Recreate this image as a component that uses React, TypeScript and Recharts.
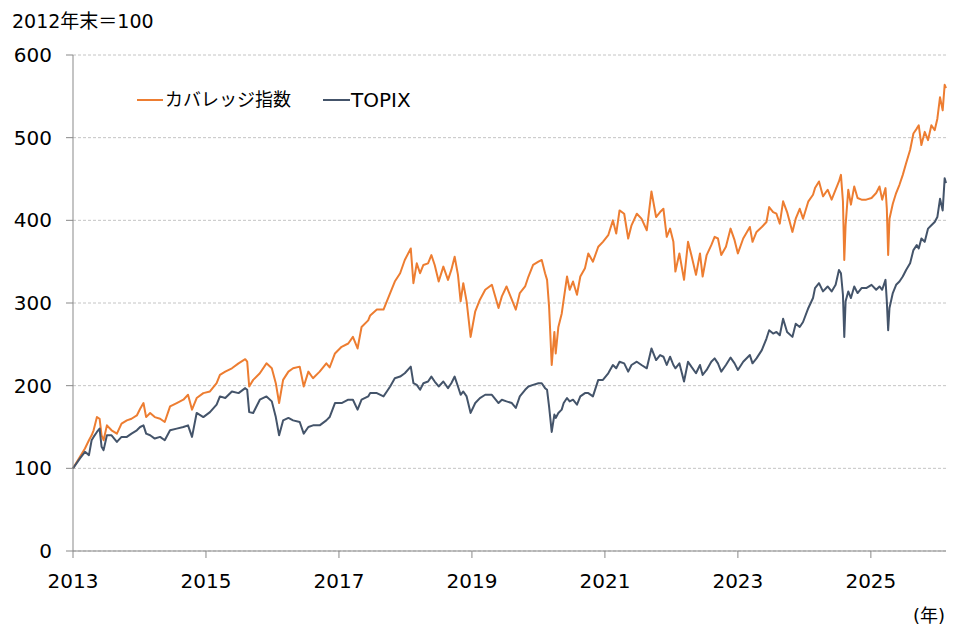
import React from 'react';
import { CartesianGrid, Line, LineChart, XAxis, YAxis } from 'recharts';

// time axis in decimal years
const years = [
  2013.0, 2013.105, 2013.18, 2013.24, 2013.28, 2013.31, 2013.36, 2013.4, 2013.43, 2013.46,
  2013.51, 2013.58, 2013.66, 2013.73, 2013.81, 2013.88, 2013.96, 2014.01, 2014.06, 2014.1,
  2014.16, 2014.23, 2014.31, 2014.38, 2014.46, 2014.56, 2014.66, 2014.73, 2014.79, 2014.86,
  2014.96, 2015.06, 2015.16, 2015.21, 2015.29, 2015.39, 2015.49, 2015.59, 2015.62, 2015.65,
  2015.71, 2015.81, 2015.91, 2015.99, 2016.05, 2016.1, 2016.16, 2016.24, 2016.31, 2016.41,
  2016.47, 2016.54, 2016.61, 2016.71, 2016.81, 2016.86, 2016.94, 2017.04, 2017.14, 2017.21,
  2017.28, 2017.34, 2017.44, 2017.47, 2017.57, 2017.67, 2017.72, 2017.77, 2017.84, 2017.92,
  2017.99, 2018.08, 2018.12, 2018.17, 2018.22, 2018.27, 2018.34, 2018.39, 2018.44, 2018.5,
  2018.57, 2018.64, 2018.69, 2018.74, 2018.79, 2018.83, 2018.87, 2018.92, 2018.98, 2019.05,
  2019.12, 2019.2, 2019.3, 2019.4, 2019.45, 2019.52, 2019.6, 2019.66, 2019.72, 2019.8,
  2019.85, 2019.92, 2020.0, 2020.05, 2020.1, 2020.13, 2020.16, 2020.2, 2020.24, 2020.26,
  2020.3, 2020.35, 2020.38, 2020.43, 2020.47, 2020.52, 2020.58, 2020.63, 2020.7, 2020.75,
  2020.82, 2020.9, 2020.97, 2021.05, 2021.12, 2021.17, 2021.22, 2021.29, 2021.35, 2021.4,
  2021.48, 2021.55, 2021.63, 2021.7, 2021.77, 2021.83, 2021.88, 2021.93, 2021.98, 2022.03,
  2022.06, 2022.12, 2022.19, 2022.25, 2022.3, 2022.37, 2022.43, 2022.47, 2022.53, 2022.6,
  2022.65, 2022.7, 2022.75, 2022.82, 2022.89, 2022.95, 2023.0, 2023.08, 2023.18, 2023.22,
  2023.28, 2023.36, 2023.43, 2023.47, 2023.53, 2023.58, 2023.63, 2023.68, 2023.74, 2023.82,
  2023.87, 2023.93, 2023.98, 2024.06, 2024.13, 2024.16, 2024.22, 2024.28, 2024.35, 2024.41,
  2024.47, 2024.52, 2024.55, 2024.58, 2024.6, 2024.62, 2024.66, 2024.7, 2024.75, 2024.8,
  2024.86, 2024.93, 2025.01, 2025.08, 2025.13, 2025.17, 2025.22, 2025.24, 2025.26, 2025.28,
  2025.33, 2025.38, 2025.43, 2025.48, 2025.53, 2025.59, 2025.64, 2025.69, 2025.72, 2025.76,
  2025.81, 2025.86, 2025.91, 2025.96, 2026.0, 2026.04, 2026.08, 2026.11, 2026.13,
];

// カバレッジ指数 (2012年末=100)
const coverage = [
  100, 114, 124, 134, 140, 146, 162, 160, 140, 134,
  152, 146, 142, 154, 158, 160, 164, 172, 179, 162,
  167, 162, 160, 156, 175, 179, 183, 189, 171, 185,
  191, 193, 203, 213, 217, 221, 227, 232, 229, 199,
  207, 215, 227, 221, 203, 179, 207, 217, 221, 223,
  199, 217, 209, 217, 227, 222, 239, 247, 251, 259,
  245, 271, 279, 285, 292, 292, 302, 312, 326, 336,
  352, 366, 324, 348, 336, 346, 348, 358, 346, 326,
  344, 328, 340, 356, 334, 302, 324, 302, 259, 290,
  304, 316, 322, 294, 308, 320, 304, 292, 312, 320,
  332, 346, 350, 352, 336, 328, 296, 225, 265, 239,
  271, 287, 304, 332, 316, 326, 310, 332, 342, 360,
  350, 368, 374, 382, 400, 384, 412, 408, 378, 394,
  408, 402, 388, 435, 404, 410, 414, 380, 390, 374,
  338, 360, 328, 374, 358, 334, 360, 332, 358, 370,
  380, 378, 358, 368, 390, 376, 360, 378, 392, 374,
  386, 392, 398, 416, 410, 408, 396, 423, 410, 386,
  402, 414, 402, 423, 431, 439, 447, 429, 437, 425,
  437, 447, 455, 423, 352, 394, 437, 419, 441, 427,
  425, 425, 427, 433, 441, 425, 439, 414, 358, 402,
  420, 433, 443, 455, 469, 485, 505, 511, 515, 491,
  507, 497, 515, 509, 523, 549, 533, 564, 560,
];

// TOPIX (2012年末=100)
const topix = [
  100, 112, 120, 116, 134, 138, 144, 148, 126, 122,
  140, 140, 132, 138, 138, 142, 146, 150, 152, 142,
  140, 136, 138, 134, 146, 148, 150, 152, 138, 167,
  162, 168, 177, 187, 185, 193, 191, 197, 195, 168,
  167, 183, 187, 181, 162, 140, 158, 161, 158, 156,
  142, 150, 152, 152, 158, 162, 179, 179, 183, 183,
  171, 183, 187, 191, 191, 187, 193, 199, 209, 211,
  215, 223, 203, 201, 195, 203, 205, 211, 205, 199,
  205, 197, 203, 211, 199, 189, 193, 187, 167, 179,
  185, 189, 189, 179, 183, 181, 179, 173, 187, 195,
  199, 201, 203, 203, 197, 195, 175, 144, 165, 161,
  167, 171, 179, 185, 181, 183, 177, 187, 191, 191,
  187, 207, 207, 215, 225, 221, 229, 227, 217, 225,
  229, 225, 221, 245, 231, 237, 235, 225, 235, 225,
  221, 227, 205, 229, 223, 215, 225, 213, 219, 229,
  233, 227, 217, 225, 234, 227, 219, 229, 237, 227,
  233, 243, 257, 267, 263, 265, 261, 281, 265, 259,
  275, 271, 277, 294, 306, 318, 324, 314, 320, 314,
  322, 340, 336, 310, 259, 302, 314, 306, 320, 312,
  318, 318, 322, 316, 320, 316, 328, 302, 267, 294,
  312, 322, 326, 332, 340, 348, 364, 370, 366, 378,
  374, 390, 394, 398, 404, 426, 412, 451, 445,
];

const yearTicks = [2013, 2015, 2017, 2019, 2021, 2023, 2025];
const valueTicks = [0, 100, 200, 300, 400, 500, 600];

const seriesNames = ['カバレッジ指数', 'TOPIX'];
const seriesColors = ['#ED7D31', '#44546A'];

const data = years.map((year, i) => ({ year, coverage: coverage[i], topix: topix[i] }));

const font = "'DejaVu Sans', 'Noto Sans CJK JP', sans-serif";
const axisColor = '#898989';

const App = () => {
  return (
    <div style={{ position: 'absolute', left: 0, top: 0, width: 977, height: 640, fontFamily: font }}>
      <LineChart width={977} height={640} data={data} margin={{ top: 55, right: 31, bottom: 0, left: 0 }}>
        <CartesianGrid vertical={false} stroke='#c4c4c4' strokeDasharray='3 2' />
        <XAxis
          dataKey='year'
          type='number'
          domain={[2013, 2026.13]}
          ticks={yearTicks}
          height={89}
          stroke={axisColor}
          tickSize={7}
          tickMargin={16}
          tick={{ fill: '#000', fontSize: 20, fontFamily: font }}
        />
        <YAxis
          domain={[0, 600]}
          ticks={valueTicks}
          width={73}
          stroke={axisColor}
          tickSize={7}
          tickMargin={14}
          tick={{ fill: '#000', fontSize: 20, fontFamily: font }}
        />
        <Line type='linear' dataKey='coverage' name={seriesNames[0]} stroke={seriesColors[0]} strokeWidth={2} strokeLinejoin='round' dot={false} isAnimationActive={false} />
        <Line type='linear' dataKey='topix' name={seriesNames[1]} stroke={seriesColors[1]} strokeWidth={2} strokeLinejoin='round' dot={false} isAnimationActive={false} />
      </LineChart>
      <svg width={977} height={640} style={{ position: 'absolute', left: 0, top: 0, pointerEvents: 'none' }}>
        <text x={12} y={28} fontSize={19} fontFamily={font} fill='#000'>2012年末＝100</text>
        <line x1={137} y1={100} x2={163} y2={100} stroke={seriesColors[0]} strokeWidth={2} />
        <text x={165} y={106} fontSize={18} fontFamily={font} fill='#000'>{seriesNames[0]}</text>
        <line x1={323} y1={100} x2={350} y2={100} stroke={seriesColors[1]} strokeWidth={2} />
        <text x={351} y={107} fontSize={20} fontFamily={font} fill='#000'>{seriesNames[1]}</text>
        <text x={945} y={622} fontSize={18} fontFamily={font} fill='#000' textAnchor='end'>(年)</text>
      </svg>
    </div>
  );
};

export default App;
